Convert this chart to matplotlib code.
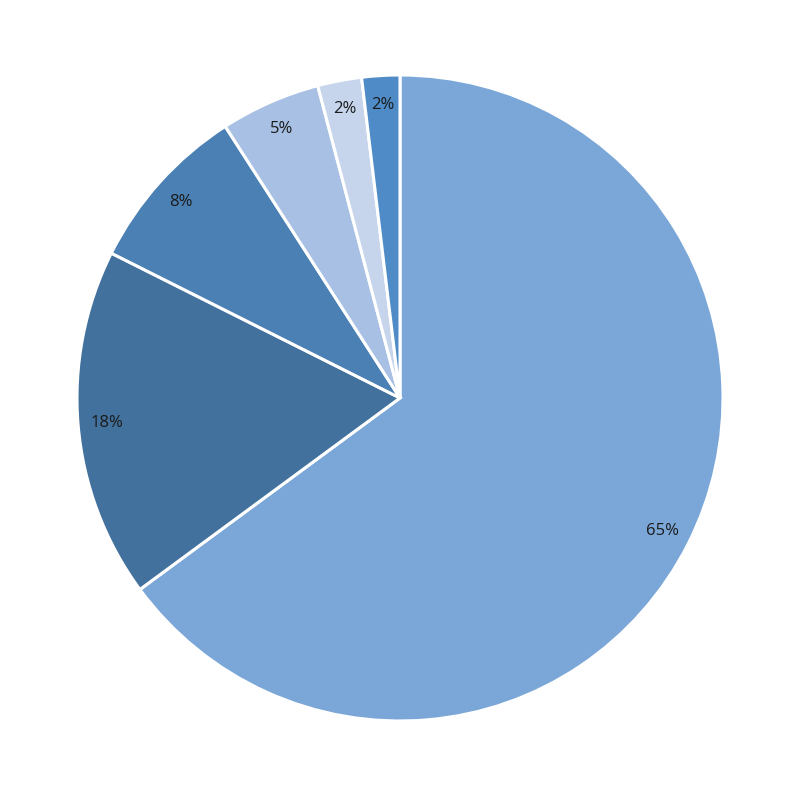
import matplotlib
matplotlib.use("Agg")
import matplotlib.pyplot as plt

shares = [64.9, 17.5, 8.5, 5.0, 2.2, 1.9]
labels = ["65%", "18%", "8%", "5%", "2%", "2%"]
colors = ["#7BA7D8", "#41719C", "#4A80B3", "#A7C0E3", "#C6D5EB", "#4F8CC7"]

fig = plt.figure(figsize=(8, 8), dpi=100)
ax = fig.add_axes([0, 0, 1, 1])

wedges, texts = ax.pie(
    shares,
    colors=colors,
    startangle=90,
    counterclock=False,
    labels=labels,
    labeldistance=0.91,
    wedgeprops=dict(edgecolor="white", linewidth=2.2),
    textprops=dict(fontsize=12, color="#1a1a1a", family="Open Sans"),
)
for t in texts:
    t.set_horizontalalignment("center")
    t.set_verticalalignment("center")

r = 323
ax.set_xlim(-400 / r, 400 / r)
ax.set_ylim(-402 / r, 398 / r)
ax.set_aspect("equal")
ax.axis("off")

fig.savefig("out.png", dpi=100)
